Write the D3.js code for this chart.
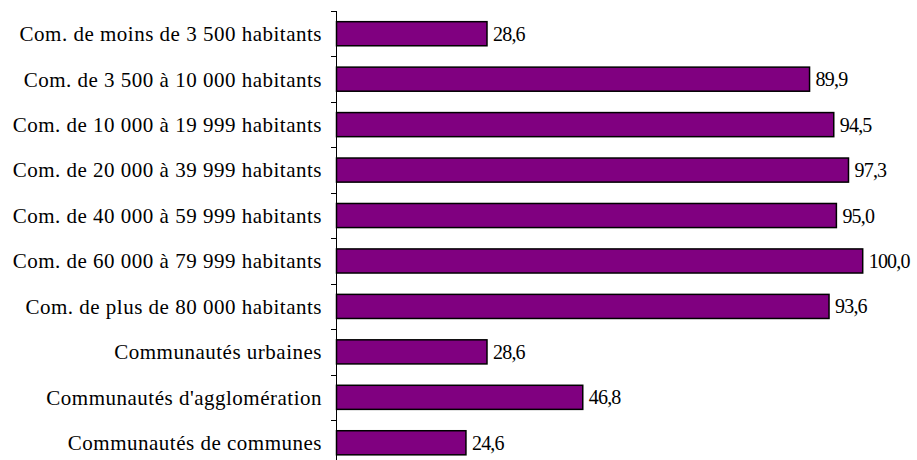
<!DOCTYPE html>
<html><head><meta charset="utf-8">
<script src="https://cdn.jsdelivr.net/npm/d3@7"></script>
<style>body{margin:0;background:#fff}svg{display:block}</style>
</head><body>
<script>
const categories = ["Com. de moins de 3 500 habitants","Com. de 3 500 à 10 000 habitants","Com. de 10 000 à 19 999 habitants","Com. de 20 000 à 39 999 habitants","Com. de 40 000 à 59 999 habitants","Com. de 60 000 à 79 999 habitants","Com. de plus de 80 000 habitants","Communautés urbaines","Communautés d'agglomération","Communautés de communes"];
const values = [28.6,89.9,94.5,97.3,95.0,100.0,93.6,28.6,46.8,24.6];
const valueLabels = ["28,6","89,9","94,5","97,3","95,0","100,0","93,6","28,6","46,8","24,6"];

const FONT="'Liberation Serif', 'DejaVu Serif', serif";
const W=917,H=460;
const svg=d3.select("body").append("svg").attr("width",W).attr("height",H);
const x=d3.scaleLinear().domain([0,100]).range([336.5,862.7]);
const y=d3.scaleBand().domain(categories).range([11,11+45.45*10]).paddingInner(0.47).paddingOuter(0.235);
const step=y.step();

svg.append("line").attr("x1",336.5).attr("x2",336.5).attr("y1",y.range()[0]).attr("y2",y.range()[1]).attr("stroke","#000");
const bounds=d3.range(categories.length+1).map(i=>y.range()[0]+i*step);
svg.selectAll("line.tick").data(bounds).join("line").attr("class","tick")
  .attr("x1",331).attr("x2",336.5).attr("y1",d=>Math.round(d)+0.5).attr("y2",d=>Math.round(d)+0.5).attr("stroke","#000");

svg.selectAll("rect.bar").data(values).join("rect").attr("class","bar")
  .attr("x",x(0)).attr("y",(d,i)=>y(categories[i]))
  .attr("width",d=>x(d)-x(0)).attr("height",y.bandwidth())
  .attr("fill","#800080").attr("stroke","#000").attr("stroke-width",1.5);

svg.selectAll("text.val").data(values).join("text").attr("class","val")
  .attr("x",d=>x(d)+6).attr("y",(d,i)=>y(categories[i])+y.bandwidth()/2)
  .attr("dy","0.35em").attr("font-family",FONT).attr("font-size",20).attr("fill","#000").attr("letter-spacing","-0.8")
  .text((d,i)=>valueLabels[i]);

svg.selectAll("text.cat").data(categories).join("text").attr("class","cat")
  .attr("x",322).attr("y",d=>y(d)+y.bandwidth()/2)
  .attr("dy","0.35em").attr("text-anchor","end").attr("font-family",FONT).attr("font-size",21).attr("letter-spacing","0.5").attr("fill","#000")
  .text(d=>d);
</script>
</body></html>
